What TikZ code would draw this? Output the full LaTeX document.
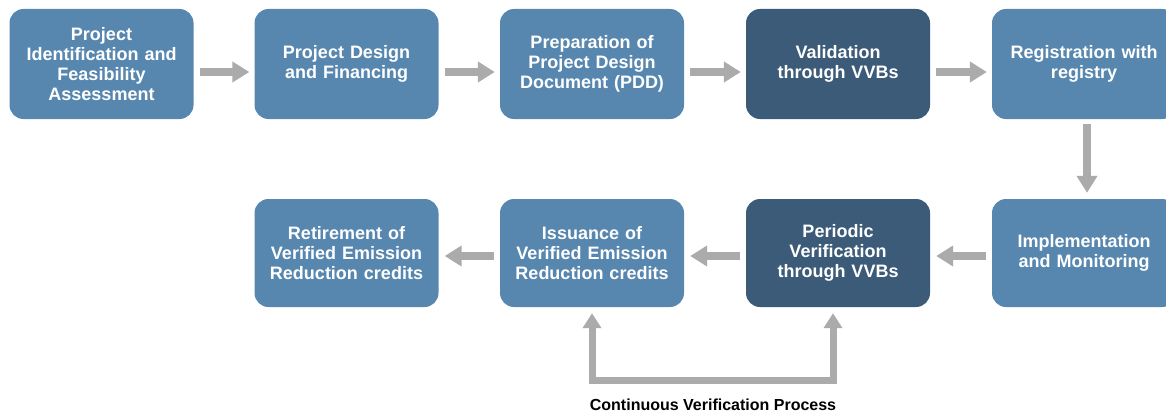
\documentclass[tikz,border=0pt]{standalone}
\usepackage{fontspec}
\setmainfont{Liberation Sans}
\usetikzlibrary{arrows.meta}
\definecolor{boxlight}{HTML}{5787AF}
\definecolor{boxdark}{HTML}{3B5B78}
\definecolor{arrgray}{HTML}{ABABAB}
\begin{document}
\begin{tikzpicture}[x=1pt,y=-1pt,
  stepbox/.style={rounded corners=14pt, minimum width=184pt, inner sep=0pt,
    text width=180pt, align=center, text=white,
    font=\bfseries\fontsize{18}{20}\selectfont},
  light/.style={stepbox, fill=boxlight},
  dark/.style={stepbox, fill=boxdark},
  toprow/.style={minimum height=110pt},
  botrow/.style={minimum height=108pt},
  flow/.style={draw=arrgray, line width=8pt, -{Triangle[width=20pt,length=17pt]}},
  loopflow/.style={draw=arrgray, line width=7pt, {Triangle[width=18pt,length=15pt]}-{Triangle[width=18pt,length=15pt]}},
  caption/.style={font=\bfseries\fontsize{16}{18}\selectfont, text=black, inner sep=0pt, anchor=base}]
\useasboundingbox (0,0) rectangle (1166,412);

% top row
\node[light,toprow] (b1) at (101.5,64) {Project\\Identification and\\Feasibility\\Assessment};
\node[light,toprow] (b2) at (346.5,64) {Project Design\\and Financing};
\node[light,toprow] (b3) at (592,64) {Preparation of\\Project Design\\Document (PDD)};
\node[dark,toprow]  (b4) at (838,64) {Validation\\through VVBs};
\node[light,toprow] (b5) at (1084,64) {Registration with\\registry};

% bottom row
\node[light,botrow] (b9) at (346.5,253) {Retirement of\\Verified Emission\\Reduction credits};
\node[light,botrow] (b8) at (592,253) {Issuance of\\Verified Emission\\Reduction credits};
\node[dark,botrow]  (b7) at (838,253) {Periodic\\Verification\\through VVBs};
\node[light,botrow] (b6) at (1084,253) {Implementation\\and Monitoring};

% top arrows
\foreach \a/\b in {b1/b2,b2/b3,b3/b4,b4/b5}{
  \draw[flow, shorten <=6pt, shorten >=5pt] ([yshift=-8pt]\a.east) -- ([yshift=-8pt]\b.west);
}
% down arrow
\draw[flow, shorten <=5pt, shorten >=6pt] ([xshift=3pt]b5.south) -- ([xshift=3pt]b6.north);
% bottom arrows
\foreach \a/\b in {b6/b7,b7/b8,b8/b9}{
  \draw[flow, shorten <=6pt, shorten >=6pt] ([yshift=-3pt]\a.west) -- ([yshift=-3pt]\b.east);
}
% feedback loop
\coordinate (fbl) at (592,380);
\coordinate (fbr) at (833,380);
\draw[loopflow] ([yshift=-6pt]b8.south) -- (fbl) -- (fbr) -- ([xshift=-5pt,yshift=-6pt]b7.south);

\node[caption] (lbl) at (713,410.5) {Continuous Verification Process};
\end{tikzpicture}
\end{document}
